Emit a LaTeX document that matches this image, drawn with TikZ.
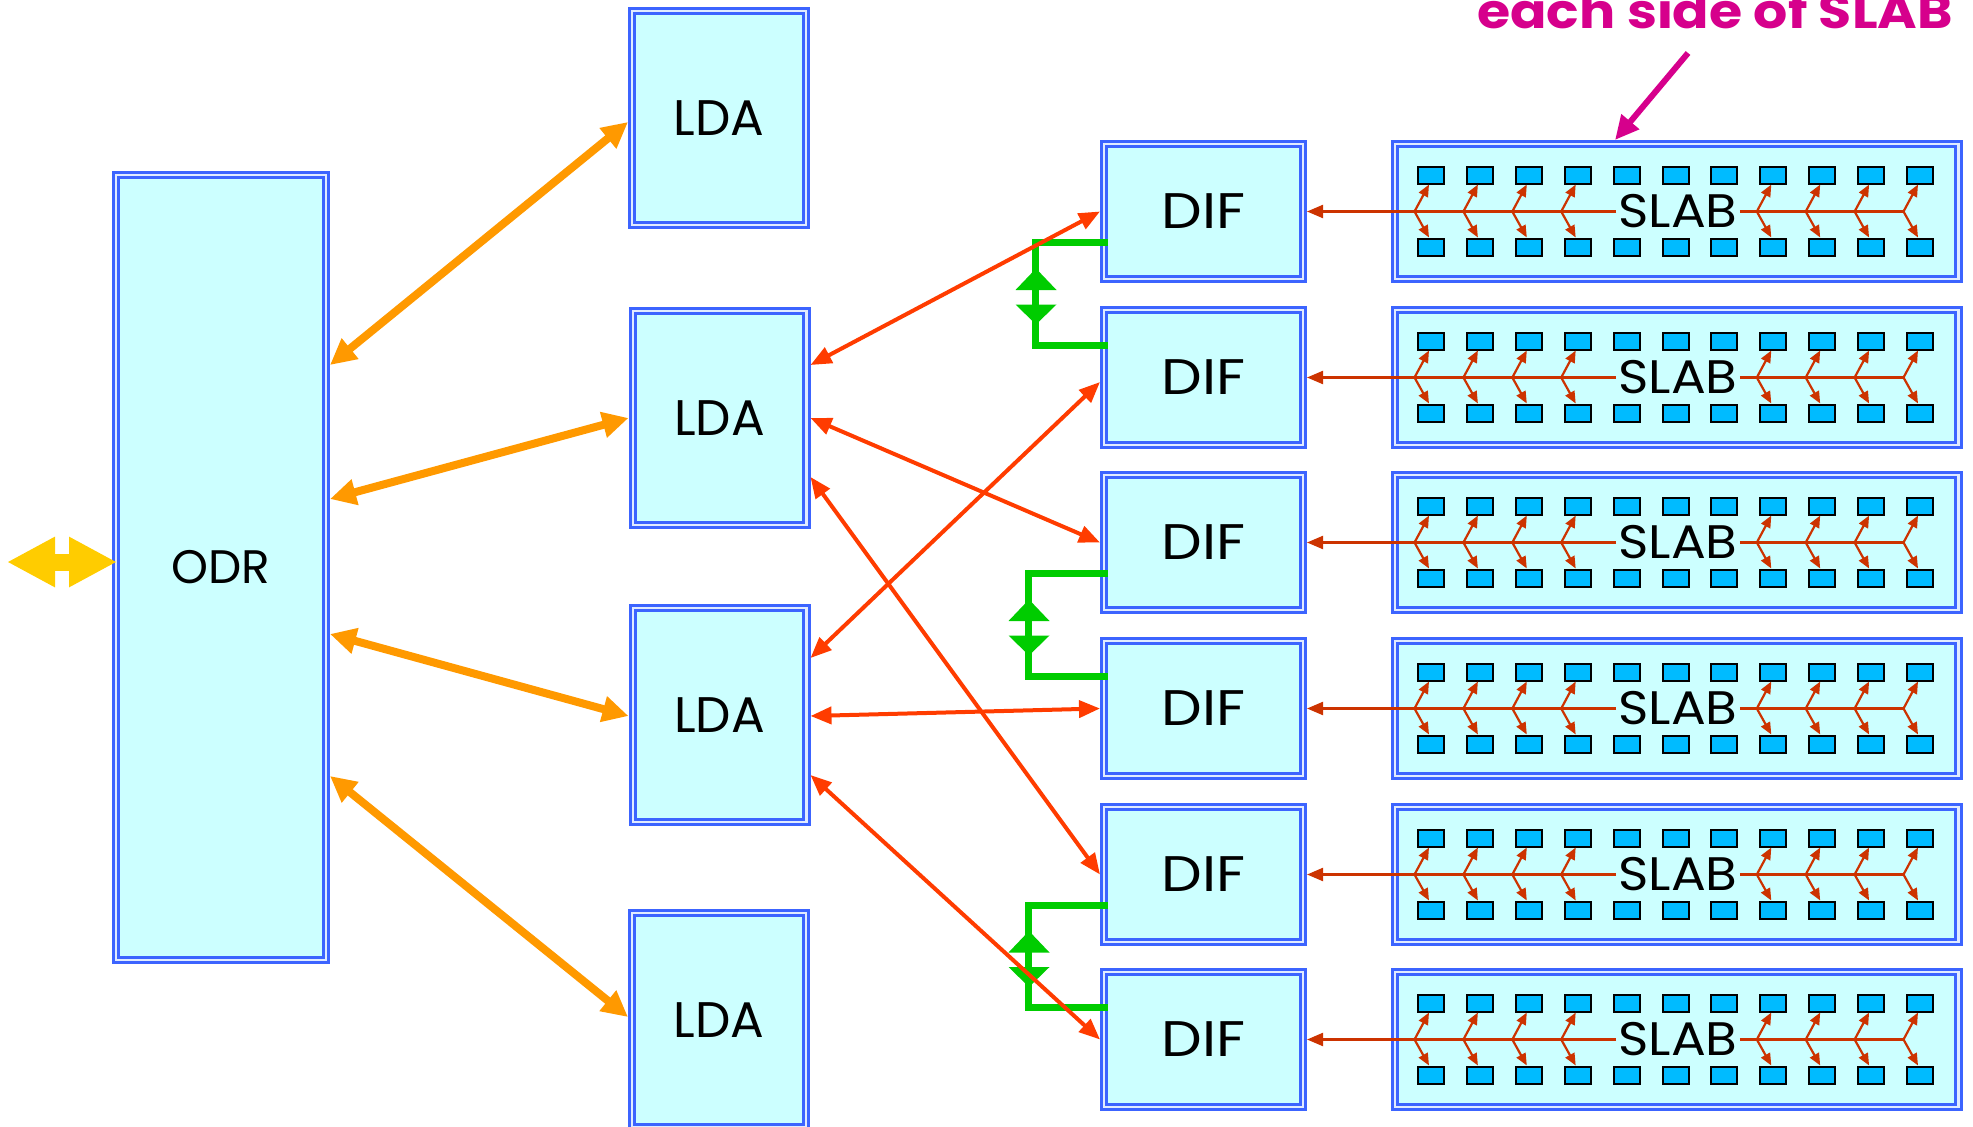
\documentclass[tikz,border=0pt]{standalone}
\usepackage{fontspec}
\setmainfont{Poppins}
\usetikzlibrary{arrows.meta,calc}

\definecolor{boxblue}{RGB}{60,100,255}
\definecolor{boxgap}{RGB}{225,235,255}
\definecolor{boxfill}{RGB}{204,255,255}
\definecolor{chipfill}{RGB}{0,187,255}
\definecolor{linkorange}{RGB}{255,153,0}
\definecolor{linkred}{RGB}{255,60,0}
\definecolor{busred}{RGB}{204,51,0}
\definecolor{linkgreen}{RGB}{0,204,0}
\definecolor{hostyellow}{RGB}{255,204,0}
\definecolor{notemagenta}{RGB}{214,0,140}

\begin{document}
\begin{tikzpicture}[x=1pt,y=-1pt,
  unit/.style={rectangle,draw=boxblue,line width=3pt,double=boxgap,
    double distance=2.4pt,fill=boxfill,inner sep=0pt,outer sep=4.2pt,
    font=\fontsize{50}{60}\selectfont},
  ldabox/.style={unit,minimum width=173.6pt,minimum height=213.6pt},
  difbox/.style={unit,minimum width=198.6pt,minimum height=134.6pt},
  slabbox/.style={unit,minimum width=563.6pt,minimum height=134.6pt},
  chip/.style={rectangle,draw=black,line width=2pt,fill=chipfill,
    minimum width=26pt,minimum height=17pt,inner sep=0pt},
  slabtext/.style={inner sep=2pt,font=\fontsize{47}{56}\selectfont},
  olink/.style={draw=linkorange,line width=8pt,
    {Triangle[length=26pt,width=25pt]}-{Triangle[length=26pt,width=25pt]}},
  rlink/.style={draw=linkred,line width=4pt,
    {Triangle[length=21pt,width=17pt]}-{Triangle[length=21pt,width=17pt]}},
  bus/.style={draw=busred,line width=2.2pt},
  branch/.style={draw=busred,line width=2.2pt,-{Triangle[length=12pt,width=10pt]}},
  glink/.style={draw=linkgreen,line width=7pt,line join=miter},
  hostlink/.style={draw=hostyellow,line width=17pt,
    {Triangle[length=48pt,width=47pt]}-{Triangle[length=48pt,width=47pt]}},
  notearrow/.style={draw=notemagenta,line width=6pt,-{Triangle[length=24pt,width=22pt]}}
]
\clip (0,0) rectangle (1973,1127);

% readout and link modules
\node[unit,minimum width=209.6pt,minimum height=784.6pt,font=\fontsize{47}{56}\selectfont]
  (ODR) at (221,567.5) {ODR};
\node[ldabox] (LDA1) at (719,118) {LDA};
\node[ldabox] (LDA2) at (719.5,418) {LDA};
\node[ldabox] (LDA3) at (719.5,715) {LDA};
\node[ldabox] (LDA4) at (719,1020) {LDA};

% detector interfaces and slabs, one row each
\foreach \r/\cy in {1/211.5,2/377.5,3/542.5,4/708.5,5/874.5,6/1039.5}{
  \node[difbox] (DIF\r) at (1203.5,\cy) {\scalebox{1.15}[1]{DIF}};
  \node[slabbox] (SLAB\r) at (1676.5,\cy) {};
  \foreach \i in {0,...,10}{
    \node[chip] (C\r t\i) at ({1431+48.9*\i},{\cy-36.5}) {};
    \node[chip] (C\r b\i) at ({1431+48.9*\i},{\cy+35.5}) {};
  }
  \node[slabtext] (T\r) at (1678,\cy) {\scalebox{1.1}[1]{SLAB}};
  \foreach \i in {0,1,2,3,7,8,9,10}{
    \coordinate (B\r x\i) at ({1414.5+48.9*\i},\cy);
    \draw[branch] (B\r x\i) -- ([xshift=-2pt]C\r t\i.south);
    \draw[branch] (B\r x\i) -- ([xshift=-2pt]C\r b\i.north);
  }
  \draw[bus,-{Triangle[length=16pt,width=13pt]}] (T\r.west) -- (DIF\r.east);
  \draw[bus] (T\r.east) -- (B\r x10);
}

% green links between neighbouring interfaces
\foreach \a/\b/\gx in {1/2/1035,3/4/1028,5/6/1028}{
  \coordinate (G\a u) at ([xshift=8pt,yshift=-30.5pt]DIF\a.west);
  \coordinate (G\a d) at ([xshift=8pt,yshift=32.5pt]DIF\b.west);
  \draw[glink] (G\a u) -- ++({\gx-1108},0) |- (G\a d);
  \coordinate (G\a m) at ($(G\a u)!.5!(G\a d)+({\gx-1108},0)$);
  \fill[linkgreen] ([xshift=1pt]G\a m) ++(0,-25) -- ++(20.5,21.5) -- ++(-41,0) -- cycle;
  \fill[linkgreen] ([xshift=1pt]G\a m) ++(0,31) -- ++(20.5,-20) -- ++(-41,0) -- cycle;
}

% ODR <-> LDA links
\draw[olink] ([yshift=202.5pt]ODR.east) -- ([yshift=-4pt]LDA1.west);
\draw[olink] ([yshift=68.5pt]ODR.east) -- (LDA2.west);
\draw[olink] ([yshift=-66.5pt]ODR.east) -- ([yshift=-1pt]LDA3.west);
\draw[olink] ([yshift=-208.5pt]ODR.east) -- ([yshift=3pt]LDA4.west);

% LDA <-> DIF links
\draw[rlink] ([yshift=53pt]LDA2.east) -- (DIF1.west);
\draw[rlink] ([yshift=57pt]LDA3.east) -- ([yshift=-4.5pt]DIF2.west);
\draw[rlink] (LDA2.east) -- (DIF3.west);
\draw[rlink] ([yshift=-59pt]LDA2.east) -- (DIF5.west);
\draw[rlink] ([yshift=-1pt]LDA3.east) -- (DIF4.west);
\draw[rlink] ([yshift=-60pt]LDA3.east) -- (DIF6.west);

% host connection
\draw[hostlink] ([xshift=-105pt,yshift=5.5pt]ODR.west) -- ([xshift=5pt,yshift=5.5pt]ODR.west);

% annotation
\node[anchor=base,text=notemagenta,font=\bfseries\fontsize{48}{56}\selectfont]
  (note) at (1715,28) {\scalebox{1.12}[1]{each side of SLAB}};
\coordinate (noteTail) at (1688,53);
\draw[notearrow] (noteTail) -- ([xshift=-61.5pt]SLAB1.north);
\end{tikzpicture}
\end{document}
